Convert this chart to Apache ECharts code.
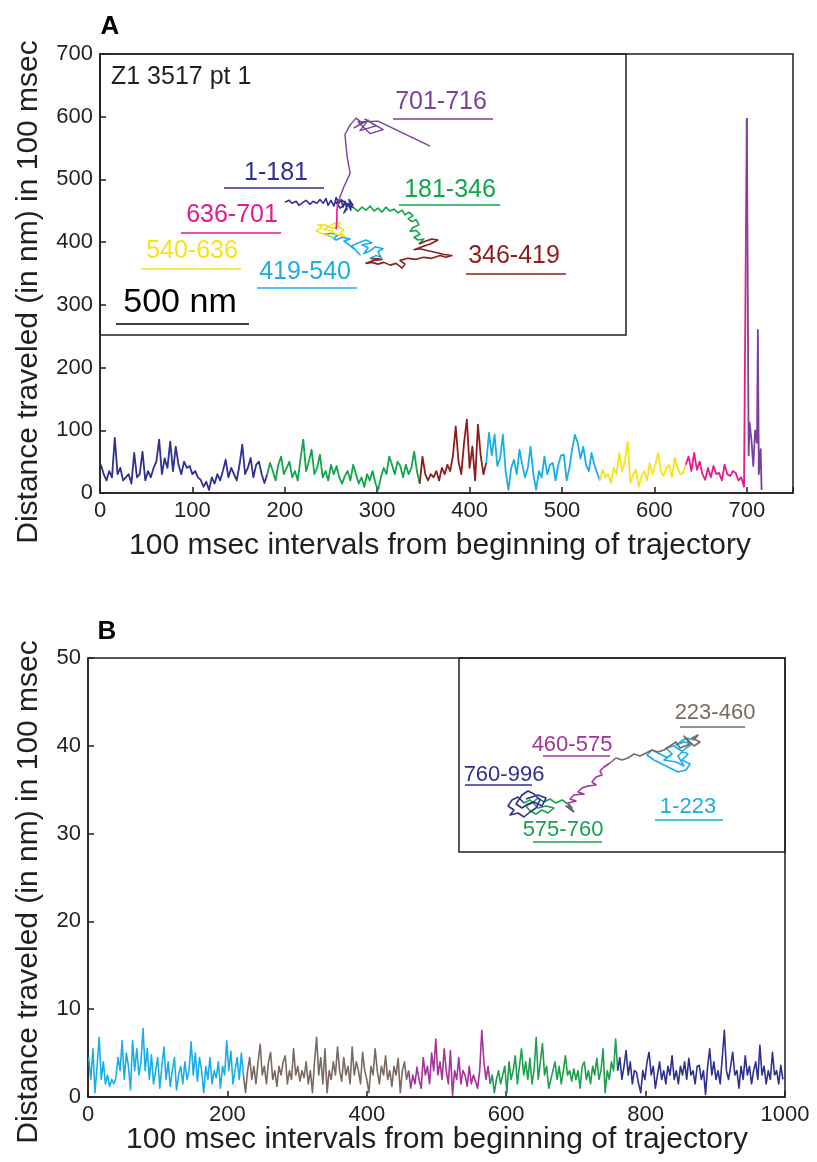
<!doctype html>
<html>
<head>
<meta charset="utf-8">
<script src="https://cdn.jsdelivr.net/npm/echarts@6/dist/echarts.min.js"></script>
<style>
  html, body { margin:0; padding:0; background:#fff; }
  #chart { width:817px; height:1162px; }
</style>
</head>
<body>
<div id="chart"></div>
<script>
// ---- Panel A : distance per 100 ms, one value every 3 intervals ----
const aNavyStart = 1;
const aNavy = [45,30,20,35,25,88,30,40,20,25, 30,15,64,25,30,66,20,35,25,40, 50,85,30,55,40,82,35,74,45,30,
  50,40,43,30,35,25,21,10,18,5, 25,15,30,20,35,53,25,40,30,20, 45,77,30,40,56,25,45,50,30,16, 30];
const aGreenStart = 181;
const aGreen = [30,48,35,20,45,58,30,40,50,25, 35,20,55,85,35,50,69,30,40,61, 25,35,20,45,30,43,25,15,27,35,
  20,45,30,15,25,10,30,20,35,16, 5,25,40,30,58,45,30,50,43,25, 45,30,40,66,35,15];
const aBrownStart = 346;
const aBrown = [15,58,30,20,30,25,35,20,40,30, 45,35,60,106,50,30,80,117,40,74, 20,109,60,30,48];
const aCyanStart = 418;
const aCyan = [48,96,60,93,43,55,93,35,5,40, 53,30,69,45,25,40,74,30,5,35, 25,58,30,45,48,20,45,60,61,20,
  40,70,93,80,55,74,45,35,64,45, 32,20];
const aYellowStart = 541;
const aYellow = [20,37,25,30,16,40,30,64,35,50, 82,16,30,37,10,27,35,20,48,30, 45,64,35,27,40,45,25,56,40,30, 32,45];
const aPinkStart = 634;
const aPink = [45,58,35,64,37,50,30,21,40,25, 43,30,32,20,45,30,27,35,32,20, 25,10,598];
const aPurpleX = [700,702,703,705,707,709,711,712,713,715,716];
const aPurpleY = [598,60,112,85,43,100,80,260,30,70,5];

// ---- Panel A inset : trajectory in nm ----
const tA_navyX = [712,728,739,755,766,782,793,809,820,835,847,859,870,878,889,901,909,920,928,936,943,951,939,955,966,959,974,947,924,909,932,963,978];
const tA_navyY = [489,497,485,493,477,489,497,481,493,485,500,485,504,477,497,474,508,485,500,470,493,462,447,481,458,500,477,485,466,489,497,474,466];
const tA_greenX = [978,993,1009,1024,1040,1055,1070,1086,1101,1117,1132,1147,1163,1174,1190,1205,1186,1201,1217,1228,1205,1194,1217,1232,1209,1224,1247,1228];
const tA_greenY = [466,454,470,458,474,454,466,450,470,454,462,447,458,439,450,435,424,412,420,400,389,373,377,362,350,339,343,323];
const tA_brownX = [1228,1255,1278,1301,1271,1240,1209,1232,1263,1294,1324,1355,1332,1309,1278,1247,1217,1186,1155,1174,1163,1140,1117,1093,1070,1047,1024,1055,1086,1040];
const tA_brownY = [323,335,343,339,323,312,300,304,296,289,281,277,270,277,266,270,262,266,258,243,227,246,239,250,243,250,246,258,262,266];
const tA_cyanX = [1040,1063,1082,1070,1090,1059,1040,1016,1032,1009,1047,1024,993,970,986,1001,978,955,939,963,932,909,886,862,893,916,901];
const tA_cyanY = [266,277,270,293,304,312,296,285,308,320,327,339,327,316,296,281,304,323,335,343,350,339,354,362,366,358,347];
const tA_yellowX = [901,878,851,832,855,839,870,893,916,939,924,943,909,886,862,901,924,909];
const tA_yellowY = [347,358,366,377,389,400,397,385,393,381,366,354,362,377,381,404,408,381];
const tA_pinkX = [909,912,912,916];
const tA_pinkY = [381,420,458,489];
const tA_purpleX = [916,939,963,951,943,963,986,1009,978,1032,1001,1063,1020,1090,1040,993,1070,1271];
const tA_purpleY = [489,551,604,674,758,797,824,805,785,816,774,793,820,778,762,809,812,712];

// ---- Panel B : distance per 100 ms, one value every 3 intervals ----
const bCyanStart = 1;
const bCyan = [4.5,2,5.5,0.5,3.5,6.8,2,4,1.5,2.5, 1.2,2,1.5,2.2,4.5,3,6.4,2,5,3.5, 0.8,6.4,3,5.5,2.5,4,7.8,3,5.5,2,
  4.8,1.5,3,4.5,1,3.5,5.7,2,4,1.2, 3,4.5,0.8,2.5,3.5,1.5,4,2,3,6.3, 2.5,5,1.8,4.5,3,0.5,3.5,2,4.5,1.5,
  3,2.2,4,1,3.5,2.5,6.4,3,5.2,1.5, 3,4.5,2,5,2.5];
const bBrownStart = 223;
const bBrown = [2.5,0.5,3,4.5,2,3.5,1.5,4,6,2.5, 3.5,1.5,4,5.1,2,3,1.2,3.5,2.5,4, 4.7,1.5,3,2,5.5,2.5,3.5,1.8,3,2.2,
  4,1.5,3,0.5,4,6.8,2.5,4.5,1.5,5.5, 0.5,3,2,4,2.5,5.7,3,1.8,4.5,2.5, 3.5,1.5,5.7,2.5,4,3,1.5,5.1,3,2,
  0.5,3.5,2.5,5.5,3,1.5,3.5,2.5,4.7,2, 3,1.2,3.5,2.5,4.4,0.5,3,4,2,3];
const bMagentaStart = 460;
const bMagenta = [3,1,2.5,1.5,3.4,2,1,4.5,2.5,3.5, 1.5,5,3,6.6,2.5,4,2,5.5,3,1.5, 5.3,0.2,3,2,4.5,1.5,3,2.5,1.2,3.5,
  1.5,2.5,1.8,1,3,7.6,4,2,3.5,1.5];
const bGreenStart = 577;
const bGreen = [1.5,2.5,0.5,2,3,1.5,2.5,3.5,0.5,4, 2,3,4.7,1.5,3.5,5.5,2.5,4,2,4.4, 1.5,3,6.8,2,4,6.1,2.5,3.5,1,2,
  3,4,2,3.5,1.5,3,4.7,2.5,3,1.8, 3.2,2,3,1,3.5,4,2,3,1.5,3.5, 2.5,4.4,2,3,5.5,0.5,3,2,4,3, 6.6,3];
const bNavyStart = 760;
const bNavy = [3,4.5,2,3.5,5.3,2.5,4,1.5,3,2.8, 1.5,0.5,3,2,4,5.1,2.5,3.5,1,2.5, 4,2,3,1.5,3.5,2.5,4.7,2,3,1.5,
  3.5,2.5,4,2,4.4,2.5,3,1.5,3.5,3.6, 2,3,0.3,3.5,5.5,2.5,4,2,3,1.5, 4.5,7.6,3,2,3.5,5.1,2.5,3,1,3.5,
  2,4.7,2.5,3.5,1.5,3,4,2,5.9,2.5, 3.5,1.5,3,2,5.1,2.5,3,1.5,3.6,2];

// ---- Panel B inset : trajectory (arbitrary units) ----
const tB_cyanX = [418,402,386,376,390,406,422,438,454,462,446,458,442,430,414,426,410,434,450,438,454,466,450,434,454,470];
const tB_cyanY = [188,196,204,194,184,176,168,160,164,176,184,196,204,212,208,196,184,180,172,192,208,216,220,214,228,224];
const tB_brownX = [470,478,466,482,470,458,450,462,442,434,422,410,398,386,374,362,350,338,326,314,302];
const tB_brownY = [224,234,228,220,212,224,232,216,208,220,212,204,200,204,198,192,196,188,184,188,178];
const tB_magentaX = [302,290,282,286,274,266,274,258,246,238,250,230,222,234,218,226,214,230];
const tB_magentaY = [178,170,162,154,150,140,134,132,128,120,116,114,106,102,98,88,92,80];
const tB_greenX = [230,218,206,194,182,170,158,146,134,142,154,166,178,190,174,158,142,130];
const tB_greenY = [80,96,104,98,106,100,108,98,92,82,76,84,78,88,92,88,104,98];
const tB_navyX = [130,118,106,98,110,102,118,130,142,154,162,150,138,126,114,126,138,150,166,174,158,134];
const tB_navyY = [98,110,104,92,84,74,78,70,80,88,104,116,122,114,96,88,96,100,92,108,114,106];

const C = {
  navy:'#2e3192', green:'#13a54b', brown:'#8e1d1d', cyan:'#1aaee8', yellow:'#f8e21a',
  pink:'#e8198b', purple:'#7b3f9e', grey:'#7a6a62', magenta:'#a3349b', greenB:'#1f9e4e', ink:'#231f20'
};
const FONT = '"Liberation Sans", Arial, Helvetica, sans-serif';

const step3 = (start, vals) => vals.map((v, i) => [start + 3 * i, v]);
const zip = (xs, ys) => xs.map((x, i) => [x, ys[i]]);

function line(data, color, axis, width) {
  return { type:'line', data, xAxisIndex:axis, yAxisIndex:axis, showSymbol:false, symbol:'none',
    lineStyle:{ color, width:width || 1.8, join:'round' }, itemStyle:{ color }, silent:true, z:3 };
}

const mainAxisX = (grid, min, max, interval) => ({
  type:'value', gridIndex:grid, min, max, interval,
  axisLine:{ lineStyle:{ color:C.ink, width:1.5 } },
  axisTick:{ inside:true, length:6, lineStyle:{ color:C.ink, width:1.5 } },
  splitLine:{ show:false },
  axisLabel:{ color:C.ink, fontSize:22, fontFamily:FONT, margin:7,
    formatter: v => (v % interval === 0 ? String(v) : '') }
});
const mainAxisY = (grid, min, max, interval) => ({
  type:'value', gridIndex:grid, min, max, interval,
  axisLine:{ show:true, lineStyle:{ color:C.ink, width:1.5 } },
  axisTick:{ show:true, inside:true, length:6, lineStyle:{ color:C.ink, width:1.5 } },
  splitLine:{ show:false },
  axisLabel:{ color:C.ink, fontSize:22, fontFamily:FONT, margin:7 }
});
const hiddenAxis = (grid, min, max) => ({ type:'value', gridIndex:grid, min, max, show:false, splitLine:{show:false} });

function label(text, x, y, color, size, bold) {
  return { type:'text', x, y, z:10, style:{ text, fill:color, font:(bold ? 'bold ' : '') + size + 'px ' + FONT,
    align:'center', verticalAlign:'middle' } };
}
function underline(x1, x2, y, color) {
  return { type:'line', z:10, shape:{ x1, y1:y, x2, y2:y }, style:{ stroke:color, lineWidth:1.7 } };
}
function yTitle(y) {
  return { type:'text', x:29, y, rotation:Math.PI / 2, style:{ text:'Distance traveled (in nm) in 100 msec', fill:C.ink,
    font:'30px ' + FONT, align:'center', verticalAlign:'middle' } };
}

const chart = echarts.init(document.getElementById('chart'), null, { renderer:'canvas' });
chart.setOption({
  animation:false,
  backgroundColor:'#fff',
  grid:[
    { left:100, top:54, width:693, height:439, show:true, borderColor:C.ink, borderWidth:1.5, backgroundColor:'transparent' },
    { left:100, top:54, width:526, height:281, show:true, borderColor:C.ink, borderWidth:1.5, backgroundColor:'transparent' },
    { left:88, top:658, width:697, height:439, show:true, borderColor:C.ink, borderWidth:1.5, backgroundColor:'transparent' },
    { left:459, top:658, width:326, height:194, show:true, borderColor:C.ink, borderWidth:1.5, backgroundColor:'transparent' }
  ],
  xAxis:[
    mainAxisX(0, 0, 750, 100),
    hiddenAxis(1, 0, 2025),
    mainAxisX(2, 0, 1000, 200),
    hiddenAxis(3, 0, 652)
  ],
  yAxis:[
    mainAxisY(0, 0, 700, 100),
    hiddenAxis(1, -39, 1079),
    mainAxisY(2, 0, 50, 10),
    hiddenAxis(3, 0, 388)
  ],
  series:[
    line(step3(aNavyStart, aNavy), C.navy, 0),
    line(step3(aGreenStart, aGreen), C.green, 0),
    line(step3(aBrownStart, aBrown), C.brown, 0),
    line(step3(aCyanStart, aCyan), C.cyan, 0),
    line(step3(aYellowStart, aYellow), C.yellow, 0),
    line(step3(aPinkStart, aPink), C.pink, 0),
    line(zip(aPurpleX, aPurpleY), C.purple, 0),

    line(zip(tA_navyX, tA_navyY), C.navy, 1, 1.6),
    line(zip(tA_greenX, tA_greenY), C.green, 1, 1.6),
    line(zip(tA_brownX, tA_brownY), C.brown, 1, 1.6),
    line(zip(tA_cyanX, tA_cyanY), C.cyan, 1, 1.6),
    line(zip(tA_yellowX, tA_yellowY), C.yellow, 1, 1.6),
    line(zip(tA_pinkX, tA_pinkY), C.pink, 1, 1.6),
    line(zip(tA_purpleX, tA_purpleY), C.purple, 1, 1.4),

    line(step3(bCyanStart, bCyan), C.cyan, 2, 1.6),
    line(step3(bBrownStart, bBrown), C.grey, 2, 1.6),
    line(step3(bMagentaStart, bMagenta), C.magenta, 2, 1.6),
    line(step3(bGreenStart, bGreen), C.greenB, 2, 1.6),
    line(step3(bNavyStart, bNavy), C.navy, 2, 1.6),

    line(zip(tB_cyanX, tB_cyanY), C.cyan, 3, 1.6),
    line(zip(tB_brownX, tB_brownY), C.grey, 3, 1.6),
    line(zip(tB_magentaX, tB_magentaY), C.magenta, 3, 1.6),
    line(zip(tB_greenX, tB_greenY), C.greenB, 3, 1.6),
    line(zip(tB_navyX, tB_navyY), C.navy, 3, 1.6)
  ],
  graphic:[
    label('A', 110, 27, '#000', 26, true),
    label('B', 107, 632, '#000', 26, true),
    yTitle(292),
    yTitle(892),
    label('100 msec intervals from beginning of trajectory', 440, 546, C.ink, 30),
    label('100 msec intervals from beginning of trajectory', 437, 1140, C.ink, 30),

    { type:'text', x:111, y:77, z:10, style:{ text:'Z1 3517 pt 1', fill:C.ink, font:'25px ' + FONT, align:'left', verticalAlign:'middle' } },
    label('701-716', 441, 102, C.purple, 25), underline(393, 493, 119, C.purple),
    label('1-181', 276, 173, C.navy, 25), underline(224, 324, 188, C.navy),
    label('181-346', 450, 190, C.green, 25), underline(399, 500, 205, C.green),
    label('636-701', 232, 215, C.pink, 25), underline(181, 281, 233, C.pink),
    label('540-636', 192, 251, C.yellow, 25), underline(141, 241, 269, C.yellow),
    label('419-540', 305, 272, C.cyan, 25), underline(257, 357, 288, C.cyan),
    label('346-419', 514, 256, C.brown, 25), underline(466, 566, 274, C.brown),
    label('500 nm', 180, 303, '#000', 34), underline(116, 249, 324, '#000'),

    label('223-460', 715, 713, C.grey, 22), underline(680, 745, 727, C.grey),
    label('460-575', 572, 745, C.magenta, 22), underline(543, 610, 756, C.magenta),
    label('760-996', 504, 775, C.navy, 22), underline(465, 532, 785, C.navy),
    label('1-223', 688, 807, C.cyan, 22), underline(655, 723, 820, C.cyan),
    label('575-760', 563, 830, C.greenB, 22), underline(533, 602, 842, C.greenB)
  ]
});
</script>
</body>
</html>
